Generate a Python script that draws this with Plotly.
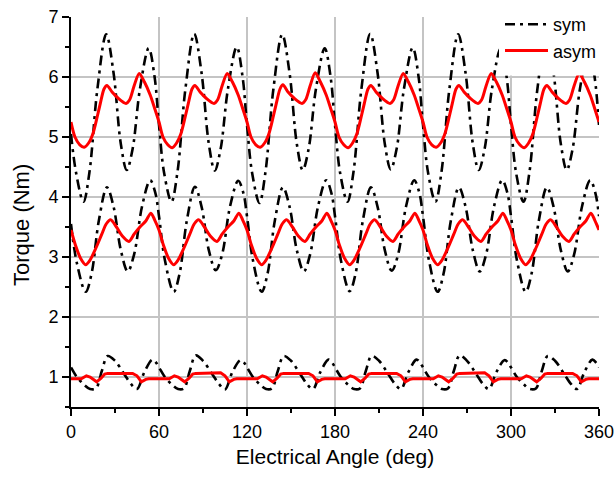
import plotly.graph_objects as go

# ---------------- data ----------------
ANGLE_TOP_SYM = [0, 3.5, 8.5, 12.5, 18, 24, 29, 34, 38, 42, 47, 53, 57,
                 60, 63.5, 68.5, 72.5, 78, 84, 89, 94, 98, 102, 107, 113, 117,
                 120, 123.5, 128.5, 132.5, 138, 144, 149, 154, 158, 162, 167, 173, 177,
                 180, 183.5, 188.5, 192.5, 198, 204, 209, 214, 218, 222, 227, 233, 237,
                 240, 243.5, 248.5, 252.5, 258, 264, 269, 274, 278, 282, 287, 293, 297,
                 300, 303.5, 308.5, 312.5, 318, 324, 329, 334, 338, 342, 347, 353, 357,
                 360]
TORQUE_TOP_SYM = [5.05, 4.4, 3.92, 4.4, 5.8, 6.71, 6.07, 4.88, 4.45, 4.8, 5.8, 6.48, 6.0,
                  5.2, 4.4, 3.92, 4.4, 5.8, 6.72, 6.07, 4.88, 4.44, 4.8, 5.8, 6.5, 6.0,
                  5.2, 4.4, 3.9, 4.4, 5.8, 6.71, 6.07, 4.88, 4.45, 4.8, 5.8, 6.48, 6.0,
                  5.2, 4.4, 3.92, 4.4, 5.8, 6.72, 6.07, 4.88, 4.46, 4.8, 5.8, 6.49, 6.0,
                  5.2, 4.4, 3.92, 4.4, 5.8, 6.71, 6.07, 4.88, 4.45, 4.8, 5.8, 6.48, 6.0,
                  5.2, 4.4, 3.92, 4.4, 5.8, 6.7, 6.07, 4.88, 4.45, 4.8, 5.8, 6.48, 6.0,
                  5.2]

ANGLE_MID_SYM = [0, 4, 10, 14, 19, 24.5, 29, 34, 38.7, 43, 48.5, 54, 57.5,
                 60, 64, 70, 74, 79, 84.5, 89, 94, 98.7, 103, 108.5, 114, 117.5,
                 120, 124, 130, 134, 139, 144.5, 149, 154, 158.7, 163, 168.5, 174, 177.5,
                 180, 184, 190, 194, 199, 204.5, 209, 214, 218.7, 223, 228.5, 234, 237.5,
                 240, 244, 250, 254, 259, 264.5, 269, 274, 278.7, 283, 288.5, 294, 297.5,
                 300, 304, 310, 314, 319, 324.5, 329, 334, 338.7, 343, 348.5, 354, 357.5,
                 360]
TORQUE_MID_SYM = [3.55, 2.9, 2.42, 2.72, 3.61, 4.16, 3.84, 3.11, 2.76, 3.04, 3.85, 4.28, 4.07,
                  3.68, 2.95, 2.42, 2.72, 3.61, 4.17, 3.84, 3.11, 2.78, 3.04, 3.85, 4.27, 4.07,
                  3.68, 2.95, 2.42, 2.72, 3.61, 4.16, 3.84, 3.11, 2.76, 3.04, 3.85, 4.28, 4.07,
                  3.68, 2.95, 2.43, 2.72, 3.61, 4.16, 3.84, 3.11, 2.77, 3.04, 3.85, 4.28, 4.07,
                  3.68, 2.95, 2.42, 2.72, 3.61, 4.16, 3.84, 3.11, 2.76, 3.04, 3.85, 4.28, 4.07,
                  3.68, 2.95, 2.42, 2.72, 3.61, 4.16, 3.84, 3.11, 2.76, 3.04, 3.85, 4.28, 4.07,
                  3.68]

ANGLE_LOW_SYM = [0, 4, 9, 13, 17, 21, 25, 30, 36, 41, 45, 50, 55.5, 58,
                 60, 64, 69, 73, 77, 81, 85, 90, 96, 101, 105, 110, 115.5, 118,
                 120, 124, 129, 133, 137, 141, 145, 150, 156, 161, 165, 170, 175.5, 178,
                 180, 184, 189, 193, 197, 201, 205, 210, 216, 221, 225, 230, 235.5, 238,
                 240, 244, 249, 253, 257, 261, 265, 270, 276, 281, 285, 290, 295.5, 298,
                 300, 304, 309, 313, 317, 321, 325, 330, 336, 341, 345, 350, 355.5, 358,
                 360]
TORQUE_LOW_SYM = [1.16, 1.0, 0.87, 0.8, 0.81, 1.1, 1.35, 1.27, 1.06, 0.88, 0.8, 1.08, 1.29, 1.24,
                  1.16, 1.0, 0.87, 0.8, 0.81, 1.1, 1.36, 1.27, 1.06, 0.88, 0.79, 1.08, 1.28, 1.24,
                  1.16, 1.0, 0.87, 0.8, 0.81, 1.1, 1.35, 1.27, 1.06, 0.88, 0.8, 1.08, 1.29, 1.24,
                  1.16, 1.0, 0.87, 0.8, 0.81, 1.1, 1.35, 1.27, 1.06, 0.88, 0.8, 1.08, 1.29, 1.24,
                  1.16, 1.0, 0.87, 0.8, 0.81, 1.1, 1.36, 1.27, 1.06, 0.88, 0.8, 1.08, 1.28, 1.24,
                  1.16, 1.0, 0.87, 0.8, 0.81, 1.1, 1.35, 1.27, 1.06, 0.88, 0.8, 1.08, 1.29, 1.24,
                  1.16]

ANGLE_TOP_ASYM = [0, 2.7, 6, 9, 12, 15, 18, 20, 22.5, 24.5, 28, 32, 37.5, 40, 43, 46.5, 50, 54, 57,
                  60, 62.7, 66, 69, 72, 75, 78, 80, 82.5, 84.5, 88, 92, 97.5, 100, 103, 106.5, 110, 114, 117,
                  120, 122.7, 126, 129, 132, 135, 138, 140, 142.5, 144.5, 148, 152, 157.5, 160, 163, 166.5, 170, 174, 177,
                  180, 182.7, 186, 189, 192, 195, 198, 200, 202.5, 204.5, 208, 212, 217.5, 220, 223, 226.5, 230, 234, 237,
                  240, 242.7, 246, 249, 252, 255, 258, 260, 262.5, 264.5, 268, 272, 277.5, 280, 283, 286.5, 290, 294, 297,
                  300, 302.7, 306, 309, 312, 315, 318, 320, 322.5, 324.5, 328, 332, 337.5, 340, 343, 346.5, 350, 354, 357,
                  360]
TORQUE_TOP_ASYM = [5.25, 5.0, 4.87, 4.83, 4.9, 5.06, 5.35, 5.56, 5.8, 5.86, 5.75, 5.65, 5.56, 5.62, 5.85, 6.06, 5.92, 5.7, 5.48,
                   5.25, 5.0, 4.87, 4.82, 4.9, 5.06, 5.35, 5.56, 5.8, 5.86, 5.75, 5.65, 5.56, 5.62, 5.85, 6.06, 5.92, 5.7, 5.48,
                   5.25, 5.0, 4.87, 4.83, 4.9, 5.06, 5.35, 5.56, 5.8, 5.87, 5.75, 5.65, 5.56, 5.62, 5.85, 6.07, 5.92, 5.7, 5.48,
                   5.25, 5.0, 4.87, 4.82, 4.9, 5.06, 5.35, 5.56, 5.8, 5.86, 5.75, 5.65, 5.56, 5.62, 5.85, 6.06, 5.92, 5.7, 5.48,
                   5.25, 5.0, 4.87, 4.83, 4.9, 5.06, 5.35, 5.56, 5.8, 5.86, 5.75, 5.65, 5.56, 5.62, 5.85, 6.06, 5.92, 5.7, 5.48,
                   5.25, 5.0, 4.87, 4.82, 4.9, 5.06, 5.35, 5.56, 5.8, 5.86, 5.75, 5.65, 5.56, 5.62, 5.85, 6.06, 5.92, 5.7, 5.48,
                   5.25]

ANGLE_MID_ASYM = [0, 3, 6.5, 10, 13, 17, 21, 24, 27, 31, 35, 39.5, 43, 47, 51, 54.5, 57,
                  60, 63, 66.5, 70, 73, 77, 81, 84, 87, 91, 95, 99.5, 103, 107, 111, 114.5, 117,
                  120, 123, 126.5, 130, 133, 137, 141, 144, 147, 151, 155, 159.5, 163, 167, 171, 174.5, 177,
                  180, 183, 186.5, 190, 193, 197, 201, 204, 207, 211, 215, 219.5, 223, 227, 231, 234.5, 237,
                  240, 243, 246.5, 250, 253, 257, 261, 264, 267, 271, 275, 279.5, 283, 287, 291, 294.5, 297,
                  300, 303, 306.5, 310, 313, 317, 321, 324, 327, 331, 335, 339.5, 343, 347, 351, 354.5, 357,
                  360]
TORQUE_MID_ASYM = [3.45, 3.2, 2.98, 2.87, 2.95, 3.15, 3.38, 3.55, 3.62, 3.5, 3.35, 3.26, 3.38, 3.5, 3.6, 3.73, 3.62,
                   3.45, 3.2, 2.98, 2.87, 2.95, 3.15, 3.38, 3.55, 3.62, 3.5, 3.35, 3.26, 3.38, 3.5, 3.6, 3.73, 3.62,
                   3.45, 3.2, 2.98, 2.87, 2.95, 3.15, 3.38, 3.55, 3.62, 3.5, 3.35, 3.26, 3.38, 3.5, 3.6, 3.73, 3.62,
                   3.45, 3.2, 2.98, 2.87, 2.95, 3.15, 3.38, 3.55, 3.62, 3.5, 3.35, 3.26, 3.38, 3.5, 3.6, 3.73, 3.62,
                   3.45, 3.2, 2.98, 2.87, 2.95, 3.15, 3.38, 3.55, 3.62, 3.5, 3.35, 3.26, 3.38, 3.5, 3.6, 3.73, 3.62,
                   3.45, 3.2, 2.98, 2.87, 2.95, 3.15, 3.38, 3.55, 3.62, 3.5, 3.35, 3.26, 3.38, 3.5, 3.6, 3.73, 3.62,
                   3.45]

ANGLE_LOW_ASYM = [0, 7, 10.5, 13, 17.5, 20.5, 23, 25, 42, 45, 48, 51, 53,
                  60, 67, 70.5, 73, 77.5, 80.5, 83, 85, 102, 105, 108, 111, 113,
                  120, 127, 130.5, 133, 137.5, 140.5, 143, 145, 162, 165, 168, 171, 173,
                  180, 187, 190.5, 193, 197.5, 200.5, 203, 205, 222, 225, 228, 231, 233,
                  240, 247, 250.5, 253, 257.5, 260.5, 263, 265, 282, 285, 288, 291, 293,
                  300, 307, 310.5, 313, 317.5, 320.5, 323, 325, 342, 345, 348, 351, 353,
                  360]
TORQUE_LOW_ASYM = [0.97, 0.97, 1.02, 1.0, 0.92, 0.98, 1.05, 1.06, 1.06, 1.02, 0.92, 0.96, 0.97,
                   0.97, 0.97, 1.02, 1.0, 0.92, 0.98, 1.05, 1.06, 1.07, 1.02, 0.92, 0.96, 0.97,
                   0.97, 0.97, 1.02, 1.0, 0.92, 0.98, 1.05, 1.06, 1.06, 1.02, 0.92, 0.96, 0.97,
                   0.97, 0.97, 1.02, 1.0, 0.92, 0.98, 1.05, 1.06, 1.06, 1.02, 0.92, 0.96, 0.97,
                   0.97, 0.97, 1.02, 1.0, 0.92, 0.98, 1.05, 1.06, 1.07, 1.02, 0.92, 0.96, 0.97,
                   0.97, 0.97, 1.02, 1.0, 0.92, 0.98, 1.05, 1.06, 1.06, 1.02, 0.92, 0.96, 0.97,
                   0.97]

X_TICKS = [0, 60, 120, 180, 240, 300, 360]
Y_TICKS = [1, 2, 3, 4, 5, 6, 7]
Y_GRID = [1, 2, 3, 4, 5, 6]
SERIES_NAMES = ["sym", "asym"]
X_TITLE = "Electrical Angle (deg)"
Y_TITLE = "Torque (Nm)"

# ---------------- styling ----------------
FONT = "Liberation Sans, Arial, sans-serif"
SYM_STYLE = dict(color="black", width=2.6, dash="10px,5px,3px,5px")
ASYM_STYLE = dict(color="#ff0000", width=3)
GRID_COLOR = "#c4c4c4"

fig = go.Figure()

# empty helper trace so that the overlay grid axis (y2) is created
fig.add_trace(go.Scatter(x=[None], y=[None], yaxis="y2", mode="lines",
                         showlegend=False, hoverinfo="skip"))

sym_sets = [(ANGLE_TOP_SYM, TORQUE_TOP_SYM), (ANGLE_MID_SYM, TORQUE_MID_SYM),
            (ANGLE_LOW_SYM, TORQUE_LOW_SYM)]
asym_sets = [(ANGLE_TOP_ASYM, TORQUE_TOP_ASYM, "spline"),
             (ANGLE_MID_ASYM, TORQUE_MID_ASYM, "spline"),
             (ANGLE_LOW_ASYM, TORQUE_LOW_ASYM, "linear")]

for i, (xa, ya) in enumerate(sym_sets):
    fig.add_trace(go.Scatter(x=xa, y=ya, mode="lines", name=SERIES_NAMES[0],
                             legendgroup="sym", showlegend=(i == 0),
                             line=dict(shape="spline", smoothing=1.0, **SYM_STYLE)))
for i, (xa, ya, shp) in enumerate(asym_sets):
    fig.add_trace(go.Scatter(x=xa, y=ya, mode="lines", name=SERIES_NAMES[1],
                             legendgroup="asym", showlegend=(i == 0),
                             line=dict(shape=shp, smoothing=0.8, **ASYM_STYLE)))

L, R, T, B = 71, 16, 17, 71
W, H = 615, 478
pw, ph = W - L - R, H - T - B

def px_x(p):
    return (p - L) / pw

def px_y(p):
    return (H - B - p) / ph

# white legend box that hides the curves underneath (as in the reference)
fig.add_shape(type="rect", xref="paper", yref="paper",
              x0=px_x(499), x1=px_x(620), y0=px_y(75.5), y1=px_y(-5),
              fillcolor="white", line=dict(width=0), layer="above")

# y-axis title placed as in the reference (slightly below centre)
fig.add_annotation(text=Y_TITLE, xref="paper", yref="paper",
                   x=px_x(21), y=px_y(225), xanchor="center", yanchor="middle",
                   textangle=-90, showarrow=False,
                   font=dict(family=FONT, size=22, color="black"))

tick_font = dict(family=FONT, size=18, color="black")

fig.update_layout(
    width=W, height=H,
    margin=dict(l=L, r=R, t=T, b=B, autoexpand=False),
    paper_bgcolor="white", plot_bgcolor="white",
    font=dict(family=FONT, color="black"),
    showlegend=True,
    legend=dict(x=px_x(500), y=px_y(6), xanchor="left", yanchor="top",
                bgcolor="rgba(0,0,0,0)", borderwidth=0, itemwidth=43,
                font=dict(family=FONT, size=18, color="black"),
                tracegroupgap=0),
    xaxis=dict(range=[0, 360], tickmode="array", tickvals=X_TICKS,
               ticktext=[str(v) for v in X_TICKS], ticklen=7, automargin=False,
               showline=True, linecolor="black", linewidth=2,
               ticks="outside", tickwidth=2, tickcolor="black",
               showgrid=True, gridcolor=GRID_COLOR, gridwidth=1.5, zeroline=False,
               tickfont=tick_font,
               minor=dict(dtick=30, tick0=0, ticklen=4, tickwidth=2, ticks="outside",
                          tickcolor="black"),
               title=dict(text=X_TITLE,
                          font=dict(family=FONT, size=21, color="black"), standoff=9)),
    yaxis=dict(range=[0.5, 7], tickmode="array", tickvals=Y_TICKS,
               ticktext=[str(v) for v in Y_TICKS], ticklen=7, automargin=False,
               showline=True, linecolor="black", linewidth=2,
               ticks="outside", tickwidth=2, tickcolor="black",
               showgrid=False, zeroline=False, tickfont=tick_font,
               minor=dict(dtick=0.5, tick0=0.5, ticklen=4, tickwidth=2, ticks="outside",
                          tickcolor="black")),
    # overlay axis only used to draw the horizontal grid lines at 1..6
    yaxis2=dict(range=[0.5, 7], overlaying="y", anchor="x", side="left",
                tickmode="array", tickvals=Y_GRID, showticklabels=False, ticks="",
                showline=False, showgrid=True, gridcolor=GRID_COLOR, gridwidth=1.5,
                zeroline=False, automargin=False),
)

fig.write_html("out.html")
